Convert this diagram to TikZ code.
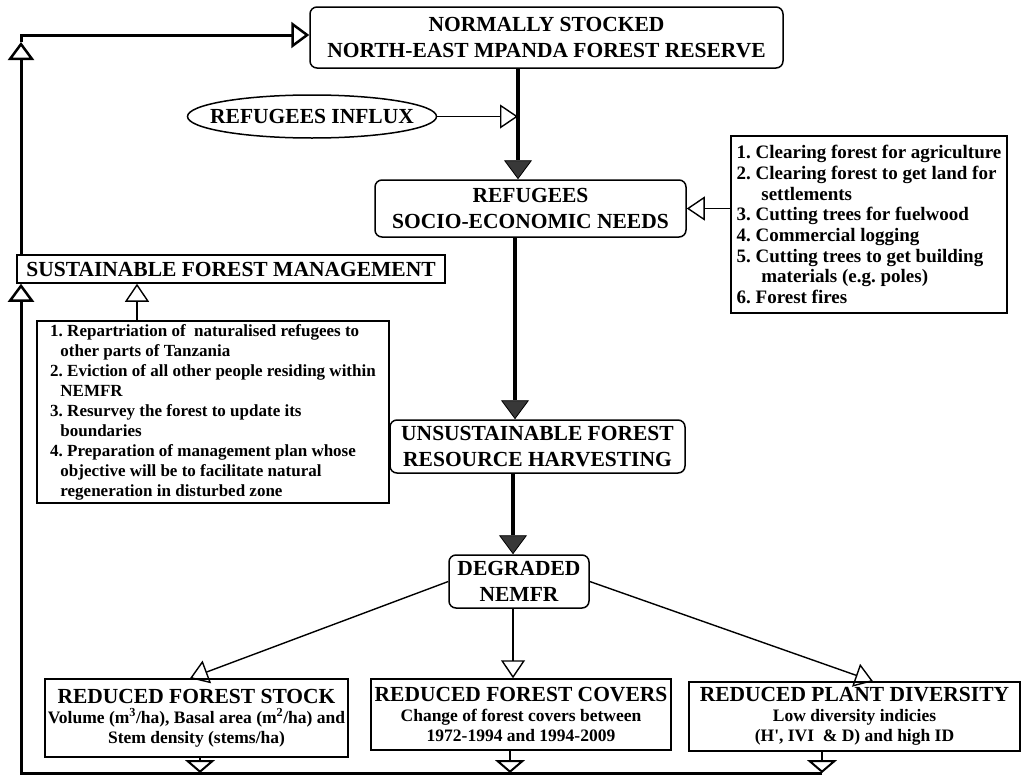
\documentclass[tikz,border=0pt]{standalone}
\usepackage{fontspec}
\setmainfont{Liberation Serif}
\usetikzlibrary{arrows.meta,shapes.geometric}

\newcommand\hdfont{\fontsize{21.5}{26.5}\selectfont\bfseries}
\newcommand\sbfont{\fontsize{17.5}{20}\selectfont\bfseries}
\newcommand\mgfont{\fontsize{17}{20}\selectfont\bfseries}
\newcommand\lsfont{\fontsize{19}{20.7}\selectfont\bfseries}
\frenchspacing

\begin{document}
\begin{tikzpicture}[x=1pt, y=-1pt,
    rbox/.style={draw, rounded corners=7pt, line width=1.5pt, align=center, font=\hdfont, inner sep=0pt},
    sbox/.style={draw, line width=1.5pt, align=center, inner sep=0pt},
    listbox/.style={draw, line width=1.5pt, align=left, inner sep=0pt},
    flow/.style={line width=4.5pt, -{Triangle[width=28pt, length=19pt, fill=black!78, line width=0.8pt]}},
    feed/.style={line width=1.4pt, -{Triangle[open, width=24pt, length=18pt]}},
    back/.style={line width=3pt},
    backtip/.style={back, -{Triangle[open, width=26pt, length=18pt, line width=2.5pt]}},
    drop/.style={line width=2pt, -{Triangle[open, width=30pt, length=13pt]}}
]
\useasboundingbox (0,0) rectangle (1025,779);

% Catena principale
\node[rbox, minimum width=473pt, minimum height=61pt] (reserve) at (546.5,37.5)
    {NORMALLY STOCKED\\NORTH-EAST MPANDA FOREST RESERVE};
\node[draw, ellipse, line width=1.5pt, font=\hdfont, minimum width=249pt, minimum height=43pt, inner sep=0pt] (influx) at (312,116.5)
    {\makebox[0pt]{REFUGEES INFLUX}};
\node[rbox, minimum width=311pt, minimum height=57pt] (needs) at (530.5,208.5)
    {REFUGEES\\SOCIO-ECONOMIC NEEDS};
\node[rbox, minimum width=295pt, minimum height=53pt] (harvest) at (537.5,446.5)
    {UNSUSTAINABLE FOREST\\RESOURCE HARVESTING};
\node[rbox, minimum width=140pt, minimum height=53pt] (degraded) at (519,581.5)
    {DEGRADED\\NEMFR};

% Cause e misure
\node[listbox, font=\lsfont, minimum width=276pt, minimum height=177pt] (causes) at (869,224.5)
    {1. Clearing forest for agriculture\\
     2. Clearing forest to get land for\\
     \hspace*{1.3em}settlements\\
     3. Cutting trees for fuelwood\\
     4. Commercial logging\\
     5. Cutting trees to get building\\
     \hspace*{1.3em}materials (e.g. poles)\\
     6. Forest fires};
\node[sbox, font=\hdfont, minimum width=428pt, minimum height=28pt] (sfm) at (231,269)
    {SUSTAINABLE FOREST MANAGEMENT};
\node[listbox, font=\mgfont, minimum width=352pt, minimum height=182pt] (measures) at (213,412)
    {1. Repartriation of\ \ naturalised refugees to\\
     \hspace*{0.6em}other parts of Tanzania\\
     2. Eviction of all other people residing within\\
     \hspace*{0.6em}NEMFR\\
     3. Resurvey the forest to update its\\
     \hspace*{0.6em}boundaries\\
     4. Preparation of management plan whose\\
     \hspace*{0.6em}objective will be to facilitate natural\\
     \hspace*{0.6em}regeneration in disturbed zone};

% Effetti
\node[sbox, font=\sbfont, minimum width=303pt, minimum height=78pt] (stock) at (196.5,718)
    {{\hdfont REDUCED FOREST STOCK}\\
     Volume (m\textsuperscript{3}/ha), Basal area (m\textsuperscript{2}/ha) and\\
     Stem density (stems/ha)};
\node[sbox, font=\sbfont, minimum width=300pt, minimum height=71pt] (covers) at (521,714.5)
    {{\hdfont REDUCED FOREST COVERS}\\
     Change of forest covers between\\
     1972-1994 and 1994-2009};
\node[sbox, font=\sbfont, minimum width=331pt, minimum height=69pt] (diversity) at (854.5,716.5)
    {{\hdfont REDUCED PLANT DIVERSITY}\\
     Low diversity indicies\\
     (H\textquotesingle, IVI\ \ \& D) and high ID};

% Frecce
\coordinate (s1) at (518,0);
\coordinate (s2) at (515,0);
\coordinate (s3) at (513,0);
\coordinate (m1) at (137,0);
\coordinate (f1) at (190,0);
\coordinate (f3) at (873,0);
\draw[flow] (s1 |- reserve.south) -- (s1 |- needs.north);
\draw[flow] (s2 |- needs.south) -- (s2 |- harvest.north);
\draw[flow] (s3 |- harvest.south) -- (s3 |- degraded.north);
\draw[feed] (influx.east) -- (influx.east -| s1);
\draw[feed] (causes.west |- needs.east) -- (needs.east);
\draw[feed] (m1 |- measures.north) -- (m1 |- sfm.south);
\draw[feed] (degraded.west) -- (f1 |- stock.north);
\draw[feed] (s3 |- degraded.south) -- (s3 |- covers.north);
\draw[feed] (degraded.east) -- (f3 |- diversity.north);

% Retroazione
\coordinate (tl) at (21,35);
\coordinate (tlmark) at (21,42);
\coordinate (bl) at (21,773);
\coordinate (d1) at (200,0);
\coordinate (d2) at (510,0);
\coordinate (d3) at (822,0);
\draw[drop] (d1 |- stock.south) -- (d1 |- bl);
\draw[drop] (d2 |- covers.south) -- (d2 |- bl);
\draw[drop] (d3 |- diversity.south) -- (d3 |- bl);
\draw[backtip] (d3 |- bl) -- (bl) -- (bl |- sfm.south);
\draw[backtip] (tl |- sfm.north) -- (tlmark);
\draw[backtip] (tlmark) -- (tl) -- (tl -| reserve.west);
\end{tikzpicture}
\end{document}
